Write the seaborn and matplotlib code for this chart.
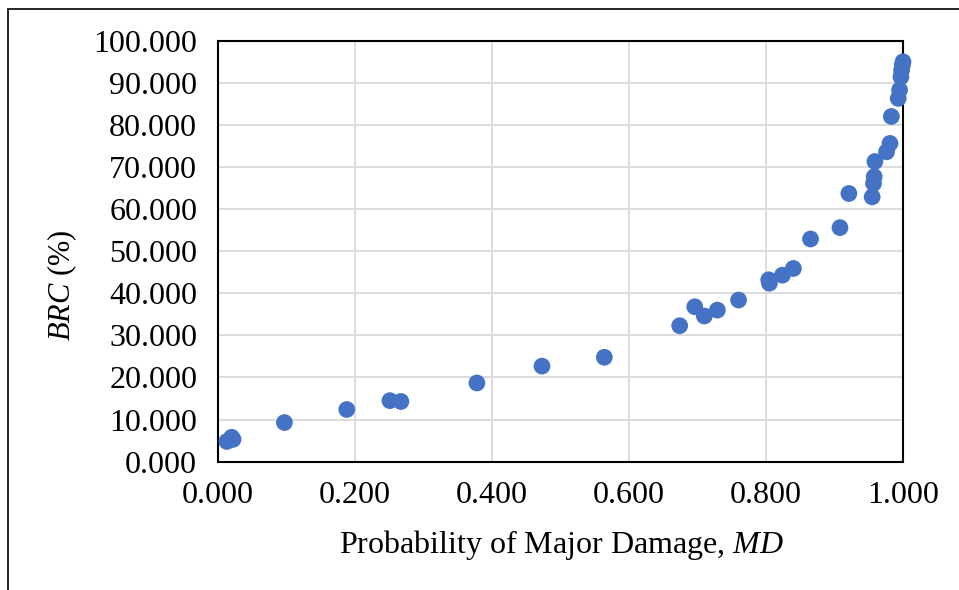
import matplotlib
matplotlib.use("Agg")
import matplotlib.pyplot as plt
import seaborn as sns
import pandas as pd
from matplotlib.patches import Rectangle

# Probability of major damage vs. building repair cost ratio
md = [0.013, 0.020, 0.022, 0.097, 0.188, 0.251, 0.267, 0.378, 0.473, 0.564,
      0.674, 0.696, 0.710, 0.729, 0.760, 0.804, 0.805, 0.824, 0.840, 0.865,
      0.908, 0.921, 0.955, 0.957, 0.958, 0.959, 0.976, 0.981, 0.983, 0.993,
      0.995, 0.997, 0.998, 0.999, 1.000]
brc = [4.8, 5.8, 5.3, 9.3, 12.4, 14.5, 14.3, 18.7, 22.7, 24.8,
       32.3, 36.8, 34.6, 36.0, 38.4, 43.2, 42.4, 44.3, 45.9, 52.9,
       55.6, 63.7, 62.9, 66.1, 67.7, 71.3, 73.6, 75.6, 82.0, 86.3,
       88.3, 91.4, 93.0, 94.2, 95.0]
x_ticks = [0.0, 0.2, 0.4, 0.6, 0.8, 1.0]
y_ticks = [0, 10, 20, 30, 40, 50, 60, 70, 80, 90, 100]

df = pd.DataFrame({"MD": md, "BRC": brc})

sns.set_theme(style="white")
plt.rcParams["font.family"] = ["Liberation Serif", "DejaVu Serif"]
plt.rcParams["text.color"] = "black"
plt.rcParams["mathtext.fontset"] = "custom"
plt.rcParams["mathtext.rm"] = "Liberation Serif"
plt.rcParams["mathtext.it"] = "Liberation Serif:italic"

fig = plt.figure(figsize=(9.59, 5.90), dpi=100)
ax = fig.add_axes([0.2273, 0.2175, 0.7143, 0.7135])

sns.scatterplot(data=df, x="MD", y="BRC", ax=ax, color="#4472C4",
                s=145, edgecolor="none", linewidth=0, clip_on=False, zorder=3)

ax.set_xlim(0, 1)
ax.set_ylim(0, 100)
ax.set_xticks(x_ticks)
ax.set_yticks(y_ticks)
ax.set_xticklabels([f"{v:.3f}" for v in x_ticks])
ax.set_yticklabels([f"{v:.3f}" for v in y_ticks])
ax.tick_params(axis="both", labelsize=23, length=0, colors="black")
ax.tick_params(axis="y", pad=15)
ax.tick_params(axis="x", pad=14)

ax.grid(True, color="#D9D9D9", linewidth=1.3)
ax.set_axisbelow(True)
for sp in ax.spines.values():
    sp.set_visible(True)
    sp.set_color("black")
    sp.set_linewidth(1.5)

ax.set_xlabel("")
ax.set_ylabel("")
ax.text(0.501, -0.198, "Probability of Major Damage, $\\it{MD}$", fontsize=23,
        color="black", ha="center", va="center", transform=ax.transAxes)
ax.text(-0.228, 0.42, "$\\it{BRC}$ (%)", fontsize=22, rotation=90,
        color="black", ha="center", va="center", transform=ax.transAxes)

# outer chart border
fig.patches.append(Rectangle((8 / 959, -0.05), 1.2, 1.05 - 9 / 590,
                             transform=fig.transFigure, fill=False,
                             edgecolor="black", linewidth=1.2))

fig.savefig("out.png", dpi=100, facecolor="white")
